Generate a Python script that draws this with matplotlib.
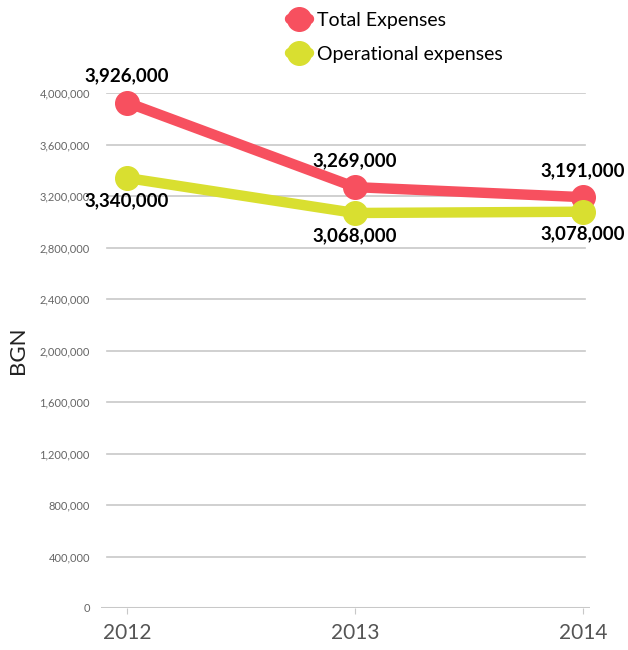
import matplotlib.pyplot as plt
from matplotlib.ticker import FuncFormatter

plt.rcParams['font.family'] = ['Lato', 'DejaVu Sans']

years = [2012, 2013, 2014]
total = [3926000, 3269000, 3191000]
operational = [3340000, 3068000, 3078000]
yticks = [0, 400000, 800000, 1200000, 1600000, 2000000, 2400000, 2800000, 3200000, 3600000, 4000000]

red = '#F7505F'
yellow = '#D9DF30'

fig = plt.figure(figsize=(6.28, 6.5), dpi=100)
ax = fig.add_axes([101 / 628, 42 / 650, 489 / 628, 515 / 650])
ax.set_xlim(2012 - 26 / 228, 2014 + 7 / 228)
ax.set_ylim(0, 4000000)

# grid lines
for v in yticks[1:]:
    ax.axhline(v, xmin=6 / 489, xmax=484 / 489, color='#c8c8c8', lw=1.2, zorder=1)
ax.axhline(0, color='#c8c8c8', lw=2.2, zorder=1)

ax.plot(years, total, color=red, lw=7.5, marker='o', ms=17, solid_capstyle='round',
        label='Total Expenses', zorder=3, clip_on=False)
ax.plot(years, operational, color=yellow, lw=7.5, marker='o', ms=17, solid_capstyle='round',
        label='Operational expenses', zorder=3, clip_on=False)

# data labels
for x, v in zip(years, total):
    ax.annotate(f'{v:,}', (x, v), xytext=(0, 13), textcoords='offset points',
                ha='center', va='bottom', fontsize=13.5, fontweight='bold', color='black', zorder=5)
for x, v in zip(years, operational):
    ax.annotate(f'{v:,}', (x, v), xytext=(0, -10), textcoords='offset points',
                ha='center', va='top', fontsize=13.5, fontweight='bold', color='black', zorder=5)

for s in ax.spines.values():
    s.set_visible(False)
ax.set_yticks(yticks)
ax.yaxis.set_major_formatter(FuncFormatter(lambda v, p: f'{int(v):,}'))
ax.tick_params(axis='y', length=0, labelsize=8, labelcolor='#666666', pad=8)
ax.set_xticks(years)
ax.set_xticklabels([str(y) for y in years])
ax.tick_params(axis='x', length=4, color='#c8c8c8', labelsize=15, labelcolor='#555555', pad=7)
ax.set_ylabel('BGN', fontsize=16, color='#222222', labelpad=8)

fig.legend(loc='upper left', bbox_to_anchor=(278 / 628, 1.0), frameon=False, fontsize=14,
           handlelength=1.0, handletextpad=0.4, labelspacing=0.9, borderaxespad=0.2)

fig.savefig('out.png', dpi=100)
